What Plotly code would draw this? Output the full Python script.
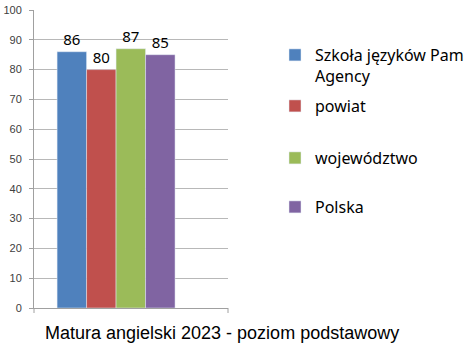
import plotly.graph_objects as go

categories = ["Matura angielski 2023 - poziom podstawowy"]
series_names = ["Szkoła języków Pam<br>Agency", "powiat", "województwo", "Polska"]
series_values = [86, 80, 87, 85]
colors = ["#4F81BD", "#C0504D", "#9BBB59", "#8064A2"]
y_ticks = [0, 10, 20, 30, 40, 50, 60, 70, 80, 90, 100]

legend_ids = ["legend", "legend2", "legend3", "legend4"]
legend_y_px = [38, 106, 158, 207]  # vertical positions (pixels from top)

fig = go.Figure()
for name, val, col, lg in zip(series_names, series_values, colors, legend_ids):
    fig.add_trace(go.Bar(
        x=[0], y=[val], name=name, marker_color=col,
        text=[str(val)], textposition="outside",
        textfont=dict(family="Noto Sans", size=15, color="#000000"),
        cliponaxis=False, legend=lg,
    ))

W, H = 474, 352
L, R, T, B = 34, 246, 10, 44
pw, ph = W - L - R, H - T - B

layout_legends = {}
for i, (lg, ypx) in enumerate(zip(legend_ids, legend_y_px)):
    layout_legends[lg] = dict(
        xref="container", yref="container",
        x=275 / W, y=1 - ypx / H, xanchor="left",
        yanchor="top" if i == 0 else "middle",
        font=dict(family="Noto Sans", size=16, color="#000000"),
        bgcolor="rgba(0,0,0,0)", valign="top",
        itemwidth=30, tracegroupgap=0,
    )

fig.update_layout(
    width=W, height=H,
    margin=dict(l=L, r=R, t=T, b=B, autoexpand=False),
    paper_bgcolor="white", plot_bgcolor="white",
    barmode="group", bargap=0.392, bargroupgap=0,
    showlegend=True,
    xaxis=dict(range=[-0.423, 0.577], showticklabels=False, showgrid=False,
               showline=True, linecolor="#A0A0A0", linewidth=1,
               zeroline=False, ticks="", fixedrange=True),
    yaxis=dict(range=[0, 100], tickvals=y_ticks, showgrid=True,
               gridcolor="#B8B8B8", gridwidth=1,
               showline=True, linecolor="#A0A0A0", linewidth=1,
               ticks="outside", ticklen=4, tickcolor="#A0A0A0",
               ticklabelstandoff=5,
               tickfont=dict(family="Liberation Sans", size=11, color="#404040"),
               zeroline=False),
    annotations=[dict(
        text=categories[0], x=(222 - L) / pw, y=(H - B - 333) / ph,
        xref="paper", yref="paper",
        showarrow=False, xanchor="center", yanchor="middle",
        font=dict(family="Liberation Sans", size=18, color="#000000"),
    )],
    **layout_legends,
)
# ticks at both ends of x axis
fig.add_shape(type="line", xref="paper", yref="paper", x0=1, x1=1, y0=0, y1=-5 / ph,
              line=dict(color="#A0A0A0", width=1))
fig.add_shape(type="line", xref="paper", yref="paper", x0=0, x1=0, y0=0, y1=-5 / ph,
              line=dict(color="#A0A0A0", width=1))

fig.write_html("out.html")
